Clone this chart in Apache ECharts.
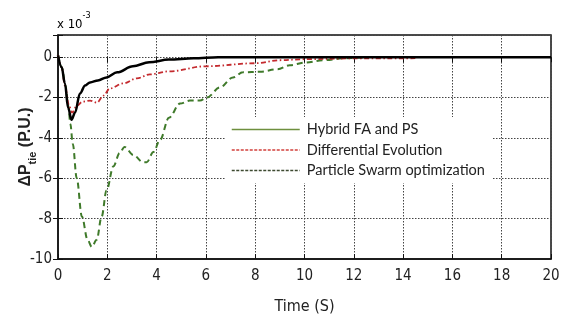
<!DOCTYPE html>
<html>
<head>
<meta charset="utf-8">
<script src="https://cdn.jsdelivr.net/npm/echarts@6/dist/echarts.min.js"></script>
<style>
  html, body { margin: 0; padding: 0; background: #fff; }
  #chart { width: 563px; height: 322px; }
</style>
</head>
<body>
<div id="chart"></div>
<script>
// values in units of 1e-3 p.u.
const hybridT = [0, 0.15, 0.28, 0.41, 0.55, 0.69, 0.89, 1.1, 1.3, 1.62, 1.97, 2.4, 3.04, 3.7, 4.5, 5.5, 6.5, 20];
const hybridV = [0.1, -0.5, -1.3, -2.5, -3.1, -2.75, -1.8, -1.4, -1.25, -1.15, -1.0, -0.75, -0.45, -0.25, -0.12, -0.05, 0, 0];

const deT = [0, 0.15, 0.28, 0.45, 0.57, 0.77, 1.0, 1.3, 1.58, 1.85, 2.1, 2.65, 3.2, 3.73, 4.5, 6.0, 8.0, 9.0, 10.0, 12.0, 14.5];
const deV = [0.1, -0.5, -1.4, -2.4, -2.75, -2.4, -2.2, -2.15, -2.25, -1.9, -1.55, -1.3, -1.05, -0.85, -0.7, -0.45, -0.3, -0.15, -0.1, -0.06, -0.05];

const psoT = [0, 0.15, 0.3, 0.42, 0.5, 0.6, 0.76, 0.97, 1.2, 1.37, 1.57, 1.77, 1.97, 2.25, 2.5, 2.7, 3.06, 3.45, 3.6, 3.87, 4.14, 4.5, 4.95, 5.35, 5.76, 6.04, 6.57, 7.1, 7.5, 8.2, 8.9, 9.4, 10.0, 10.75, 11.7, 12.5];
const psoV = [0.1, -0.5, -1.4, -2.4, -3.3, -4.3, -6.0, -7.9, -9.05, -9.4, -9.05, -7.9, -6.6, -5.4, -4.75, -4.45, -4.85, -5.2, -5.2, -4.7, -4.1, -3.0, -2.3, -2.15, -2.15, -2.0, -1.5, -1.0, -0.75, -0.72, -0.6, -0.4, -0.27, -0.15, -0.05, 0];

const seriesNames = ['Hybrid FA and PS', 'Differential Evolution', 'Particle Swarm optimization'];
const xTicks = [0, 2, 4, 6, 8, 10, 12, 14, 16, 18, 20];
const yTicks = [-10, -8, -6, -4, -2, 0];

const pairs = (t, v) => t.map((x, i) => [x, v[i]]);

const narrow = '"DejaVu Sans Condensed", "Liberation Sans", sans-serif';
const tickFont = { fontFamily: narrow, fontSize: 15, color: '#222' };
const gridLine = { color: '#444', type: [1.5, 1.5], width: 1 };
const noMark = { color: 'rgba(0,0,0,0)', borderWidth: 0 };

const chart = echarts.init(document.getElementById('chart'));

chart.setOption({
  animation: false,
  backgroundColor: '#fff',
  grid: {
    left: 58, right: 12, top: 35, bottom: 63,
    outerBoundsMode: 'none',
    show: true, borderColor: '#111', borderWidth: 1.5
  },
  legend: {
    orient: 'vertical',
    left: 225,
    top: 117,
    padding: [5, 8, 5, 6],
    backgroundColor: '#fff',
    itemWidth: 68,
    itemHeight: 14,
    itemGap: 5.5,
    textStyle: { fontFamily: 'Lato', fontSize: 14.5, color: '#222', padding: [0, 0, 0, 2] },
    data: [
      { name: seriesNames[0], itemStyle: noMark, lineStyle: { color: '#6e8f3e', type: 'solid', width: 1.5 } },
      { name: seriesNames[1], itemStyle: noMark, lineStyle: { color: '#d2403c', type: [3, 1.5], width: 1.5 } },
      { name: seriesNames[2], itemStyle: noMark, lineStyle: { color: '#3d4a30', type: [3, 1.5], width: 1.5 } }
    ]
  },
  xAxis: [{
    type: 'value',
    min: xTicks[0],
    max: xTicks[xTicks.length - 1],
    interval: 2,
    name: 'Time (S)',
    nameLocation: 'middle',
    nameMoveOverlap: false,
    nameGap: 40,
    nameTextStyle: { fontFamily: narrow, fontSize: 16, color: '#222' },
    axisLine: { show: true, onZero: false, lineStyle: { color: '#111', width: 1.5 } },
    axisTick: { show: true, inside: true, length: 5, lineStyle: { color: '#111' } },
    axisLabel: Object.assign({ margin: 10 }, tickFont),
    splitLine: { show: true, lineStyle: gridLine }
  }, {
    type: 'value',
    position: 'top',
    min: xTicks[0],
    max: xTicks[xTicks.length - 1],
    interval: 2,
    axisLine: { show: false },
    axisTick: { show: true, inside: true, length: 5, lineStyle: { color: '#111' } },
    axisLabel: { show: false },
    splitLine: { show: false }
  }],
  yAxis: [{
    type: 'value',
    min: yTicks[0],
    max: 1.1,
    interval: 2,
    name: '{d|ΔP}{s|tie}{d| (P.U.)}',
    nameLocation: 'middle',
    nameRotate: 90,
    nameMoveOverlap: false,
    nameGap: 20,
    nameTextStyle: {
      rich: {
        d: { fontFamily: 'Liberation Sans', fontSize: 16, fontWeight: 'bold', color: '#222', lineHeight: 24, verticalAlign: 'middle' },
        s: { fontFamily: 'Liberation Sans', fontSize: 11, fontWeight: 'bold', color: '#222', lineHeight: 12, verticalAlign: 'bottom' }
      }
    },
    axisLine: { show: true, onZero: false, lineStyle: { color: '#111', width: 1.5 } },
    axisTick: { show: true, inside: true, length: 5, lineStyle: { color: '#111' } },
    axisLabel: Object.assign({
      margin: 6,
      formatter: v => (yTicks.indexOf(v) >= 0 ? String(v) : '')
    }, tickFont),
    splitLine: { show: true, lineStyle: gridLine }
  }, {
    type: 'value',
    position: 'right',
    min: yTicks[0],
    max: 1.1,
    interval: 2,
    axisLine: { show: false },
    axisTick: { show: true, inside: true, length: 5, lineStyle: { color: '#111' } },
    axisLabel: { show: false },
    splitLine: { show: false }
  }],
  graphic: [{
    type: 'text',
    left: 57,
    top: 11,
    style: {
      text: '{a|x 10}{b|-3}',
      rich: {
        a: { fontFamily: narrow, fontSize: 13, color: '#222', lineHeight: 20, verticalAlign: 'bottom' },
        b: { fontFamily: narrow, fontSize: 9, color: '#222', lineHeight: 10, verticalAlign: 'top' }
      }
    }
  }],
  series: [
    {
      name: seriesNames[2],
      type: 'line',
      data: pairs(psoT, psoV),
      symbol: 'none',
      smooth: 0.35,
      smoothMonotone: 'x',
      lineStyle: { color: '#3f7a2a', width: 2, type: [6, 4] },
      itemStyle: { color: '#3f7a2a' },
      z: 2
    },
    {
      name: seriesNames[1],
      type: 'line',
      data: pairs(deT, deV),
      symbol: 'none',
      smooth: 0.35,
      smoothMonotone: 'x',
      lineStyle: { color: '#c42a2e', width: 1.8, type: [5, 2.5, 1.5, 2.5] },
      itemStyle: { color: '#c42a2e' },
      z: 3
    },
    {
      name: seriesNames[0],
      type: 'line',
      data: pairs(hybridT, hybridV),
      symbol: 'none',
      smooth: 0.35,
      smoothMonotone: 'x',
      lineStyle: { color: '#000', width: 2.5 },
      itemStyle: { color: '#000' },
      z: 4
    }
  ]
});
</script>
</body>
</html>
